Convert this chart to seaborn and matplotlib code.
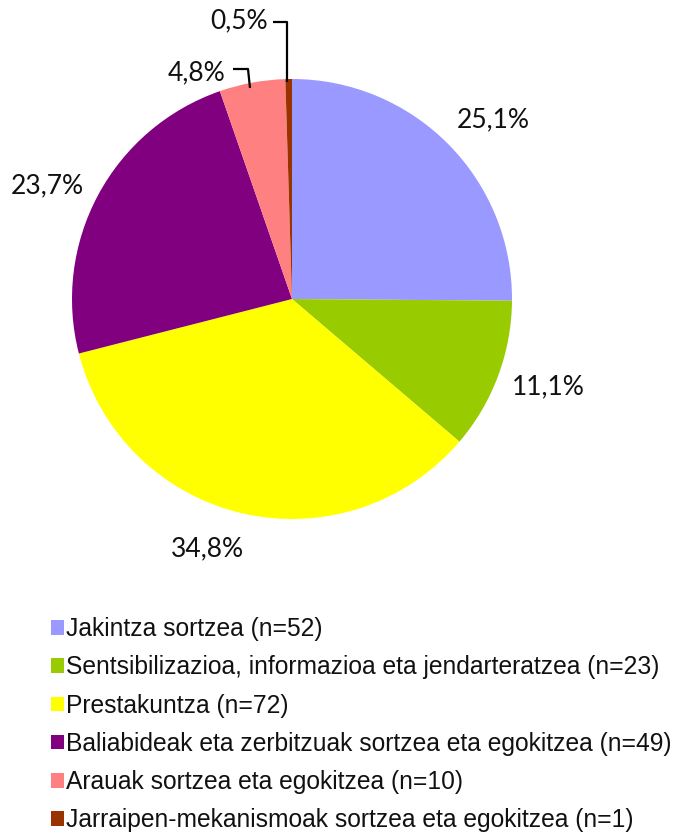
import matplotlib
matplotlib.use("Agg")
import matplotlib.pyplot as plt
import seaborn as sns

categories = [
    "Jakintza sortzea",
    "Sentsibilizazioa, informazioa eta jendarteratzea",
    "Prestakuntza",
    "Baliabideak eta zerbitzuak sortzea eta egokitzea",
    "Arauak sortzea eta egokitzea",
    "Jarraipen-mekanismoak sortzea eta egokitzea",
]
counts = [52, 23, 72, 49, 10, 1]
pct_labels = ["25,1%", "11,1%", "34,8%", "23,7%", "4,8%", "0,5%"]
colors = ["#9999FF", "#99CC00", "#FFFF00", "#800080", "#FF8080", "#993300"]

sns.set_style("white")
plt.rcParams["font.family"] = ["Liberation Sans", "DejaVu Sans"]

W, H = 680, 839
fig = plt.figure(figsize=(W / 100, H / 100), dpi=100)

cx, cy, r = 292, 299, 220
ax = fig.add_axes([(cx - r) / W, (H - cy - r) / H, 2 * r / W, 2 * r / H])
palette = sns.color_palette(colors)
wedges, _ = ax.pie(counts, colors=palette, startangle=90, counterclock=False,
                   radius=1, wedgeprops=dict(linewidth=0))
ax.set_xlim(-1, 1)
ax.set_ylim(-1, 1)
ax.set_aspect("auto")
ax.axis("off")

def px(x, y):
    return ((x - cx) / r, (cy - y) / r)

pfont = dict(family=["Lato", "DejaVu Sans"], fontsize=19, color="#111111")
label_pos = [(493, 120), (548, 387), (207, 549), (47, 186), (197, 73), (239, 21)]
for (x, y), t in zip(label_pos, pct_labels):
    ax.text(*px(x, y), t, ha="center", va="center", clip_on=False, **pfont)

# leader lines
for pts in ([(273, 22), (287, 22), (287, 82)], [(233, 69), (248, 69), (250, 88)]):
    xs, ys = zip(*[px(a, b) for a, b in pts])
    ax.plot(xs, ys, color="black", lw=1.6, clip_on=False, solid_capstyle="butt")

labels = [f"{c} (n={n})" for c, n in zip(categories, counts)]
leg = fig.legend(wedges, labels, loc="upper left",
                 bbox_to_anchor=(51 / W, 1 - 617 / H), frameon=False,
                 fontsize=17.7, borderpad=0, borderaxespad=0,
                 handlelength=0.53, handleheight=0.53, handletextpad=0.1,
                 labelspacing=0.58)
for t in leg.get_texts():
    t.set_color("#111111")

fig.savefig("out.png", dpi=100)
